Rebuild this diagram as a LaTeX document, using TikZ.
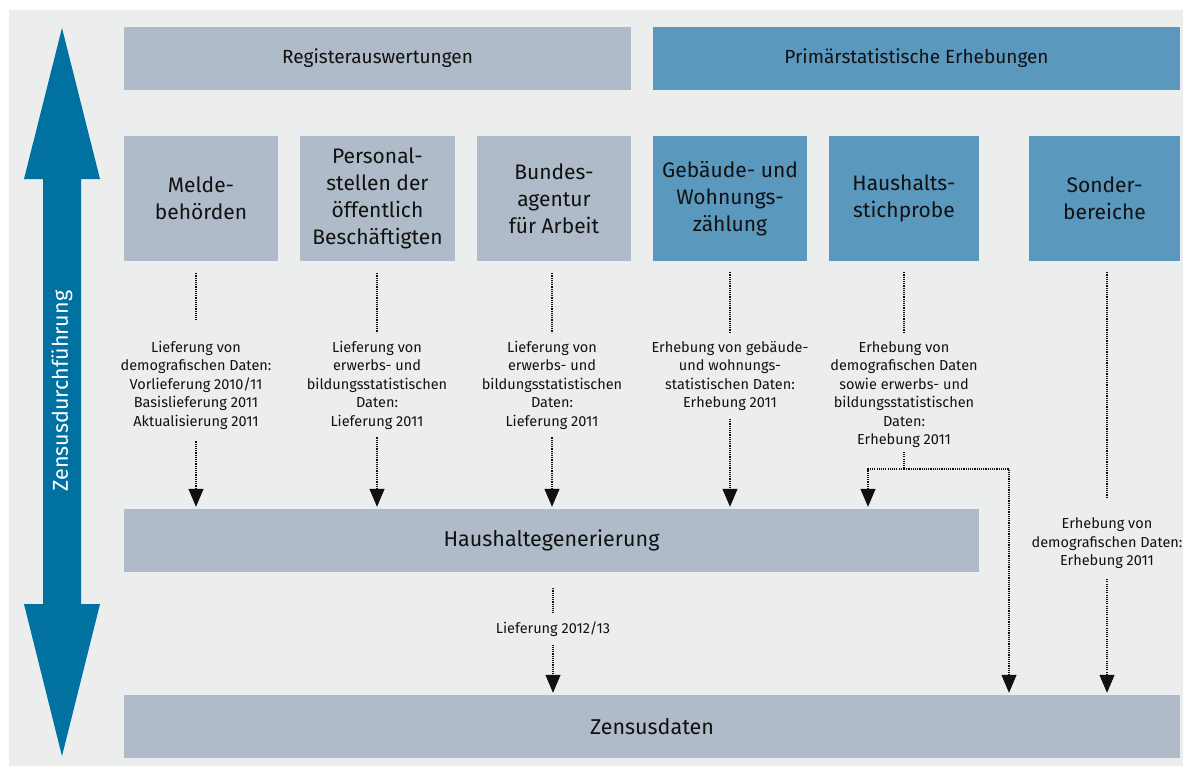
\documentclass[tikz,border=0pt]{standalone}
\usepackage{fontspec}
\setmainfont{Fira Sans}
\usetikzlibrary{arrows.meta}

\definecolor{zdback}{HTML}{ECEEEE}
\definecolor{zdgrey}{HTML}{AFBBC9}
\definecolor{zdsteel}{HTML}{5B98BE}
\definecolor{zdblue}{HTML}{0071A1}
\definecolor{zdink}{HTML}{111111}

\tikzset{
  zd-box/.style={rectangle, inner sep=0pt, align=center, text=zdink, font=\fontsize{21}{27}\selectfont},
  zd-head/.style={zd-box, font=\fontsize{19}{22}\selectfont, minimum height=63pt},
  zd-col/.style={zd-box, minimum height=125pt},
  zd-bar/.style={zd-box, font=\fontsize{21.5}{26}\selectfont, minimum height=63pt},
}

\begin{document}
\begin{tikzpicture}[
        x=1pt, y=-1pt,
        zd-reg/.style={fill=zdgrey},
        zd-prim/.style={fill=zdsteel},
        zd-dots/.style={draw=zdink, line width=1.2pt, dash pattern=on 1.1pt off 1.1pt},
        zd-flow/.style={zd-dots, -{Triangle[width=15pt,length=18pt]}, shorten >=2pt},
        zd-small/.style={font=\fontsize{14.5}{18.5}\selectfont, align=center, text=zdink, inner sep=0pt}
    ]

    % Canvas
    \useasboundingbox (0,0) rectangle (1183,766);
    \fill[white] (0,0) rectangle (1183,766);
    \fill[zdback] (9,10) rectangle (1183,766);

    % Side arrow
    \fill[zdblue] (62,28) -- (100,179) -- (81,179) -- (81,604) -- (100,604) -- (62,756)
        -- (24,604) -- (43,604) -- (43,179) -- (24,179) -- cycle;
    \node[rotate=90, text=white, font=\fontsize{21.5}{24}\selectfont] (run) at (62,391) {Zensusdurchführung};

    % Nodes: headers
    \node[zd-head, zd-reg,  minimum width=507pt] (reg)  at (377.5,58.5) {Registerauswertungen};
    \node[zd-head, zd-prim, minimum width=527pt] (prim) at (916.5,58.5) {Primärstatistische Erhebungen};

    % Nodes: sources
    \node[zd-col, zd-reg,  minimum width=154pt] (melde)    at (201,198.5)   {Melde-\\behörden};
    \node[zd-col, zd-reg,  minimum width=155pt] (personal) at (377.5,198.5) {Personal-\\stellen der\\öffentlich\\Beschäftigten};
    \node[zd-col, zd-reg,  minimum width=154pt] (bundes)   at (554,198.5)   {Bundes-\\agentur\\für Arbeit};
    \node[zd-col, zd-prim, minimum width=154pt] (gwz)      at (730,198.5)   {Gebäude- und\\Wohnungs-\\zählung};
    \node[zd-col, zd-prim, minimum width=150pt] (hhst)     at (904,198.5)   {Haushalts-\\stichprobe};
    \node[zd-col, zd-prim, minimum width=151pt] (sonder)   at (1104.5,198.5) {Sonder-\\bereiche};

    % Nodes: targets
    \node[zd-bar, zd-reg, minimum width=855pt]  (hhgen)  at (551.5,540.5) {Haushaltegenerierung};
    \node[zd-bar, zd-reg, minimum width=1056pt] (zensus) at (652,726.5)   {Zensusdaten};

    % Labels: deliveries
    \node[zd-small] (l1) at (196,385) {Lieferung von\\demografischen Daten:\\Vorlieferung 2010/11\\Basislieferung 2011\\Aktualisierung 2011};
    \node[zd-small] (l2) at (377,385) {Lieferung von\\erwerbs- und\\bildungsstatistischen\\Daten:\\Lieferung 2011};
    \node[zd-small] (l3) at (552,385) {Lieferung von\\erwerbs- und\\bildungsstatistischen\\Daten:\\Lieferung 2011};
    \node[zd-small] (l4) at (730,376) {Erhebung von gebäude-\\und wohnungs-\\statistischen Daten:\\Erhebung 2011};
    \node[zd-small] (l5) at (904,394.5) {Erhebung von\\demografischen Daten\\sowie erwerbs- und\\bildungsstatistischen\\Daten:\\Erhebung 2011};
    \node[zd-small] (l6) at (1107,543.5) {Erhebung von\\demografischen Daten:\\Erhebung 2011};
    \node[zd-small] (l7) at (553,629) {Lieferung 2012/13};

    % Edges: sources to labels
    \draw[zd-dots, shorten <=12pt, shorten >=21pt] (l1 |- melde.south) -- (l1);
    \draw[zd-dots, shorten <=12pt, shorten >=8pt] (l2 |- personal.south) -- (l2);
    \draw[zd-dots, shorten <=12pt, shorten >=8pt] (l3 |- bundes.south) -- (l3);
    \draw[zd-dots, shorten <=11pt, shorten >=8pt] (l4 |- gwz.south) -- (l4);
    \draw[zd-dots, shorten <=11pt, shorten >=8pt] (l5 |- hhst.south) -- (l5);
    \draw[zd-dots, shorten <=11pt, shorten >=20pt] (l6 |- sonder.south) -- (l6);

    % Edges: labels to targets
    \draw[zd-flow, shorten <=12pt] (l1) -- (l1 |- hhgen.north);
    \draw[zd-flow, shorten <=8pt]  (l2) -- (l2 |- hhgen.north);
    \draw[zd-flow, shorten <=8pt]  (l3) -- (l3 |- hhgen.north);
    \draw[zd-flow, shorten <=8pt]  (l4) -- (l4 |- hhgen.north);
    \draw[zd-flow, shorten <=10pt] (l6) -- (l6 |- zensus.north);

    % Edges: split of the household sample
    \coordinate (fork)  at (904,469);
    \coordinate (forkL) at (868,469);
    \coordinate (forkR) at (1009,469);
    \draw[zd-dots, shorten <=4pt] (l5) -- (fork);
    \draw[zd-flow] (fork) -- (forkL) -- (forkL |- hhgen.north);
    \draw[zd-flow] (fork) -- (forkR) -- (forkR |- zensus.north);

    % Edges: household generation to census data
    \draw[zd-dots, shorten <=16pt, shorten >=8pt] (l7 |- hhgen.south) -- (l7);
    \draw[zd-flow, shorten <=8pt] (l7) -- (l7 |- zensus.north);

\end{tikzpicture}
\end{document}
